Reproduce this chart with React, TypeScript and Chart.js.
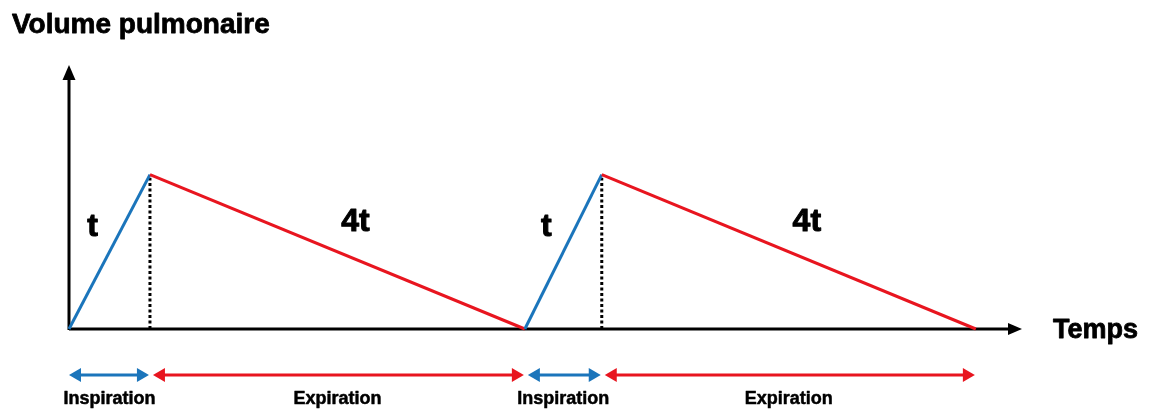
import React, { useEffect, useRef } from "react";
import { Chart, registerables } from "chart.js";

Chart.register(...registerables);

// Data (time in units of t-scale, volume relative)
const times = [0, 1, 5.63, 6.58, 11.2];
const volumes = [0, 1, 0, 1, 0];
const peakTimes = [1, 6.58];
const phaseLabels = ["Inspiration", "Expiration", "Inspiration", "Expiration"];
const durationLabels = ["t", "4t", "t", "4t"];
const yAxisTitle = "Volume pulmonaire";
const xAxisTitle = "Temps";
const xMax = 11.77;
const yMax = 1.71;

const BLUE = "#1b75bb";
const RED = "#e8151f";
const FONT = "'Liberation Sans', Arial, Helvetica, sans-serif";

function drawArrowHead(ctx: CanvasRenderingContext2D, x: number, y: number, dir: "left" | "right" | "up", len: number, half: number, color: string) {
  ctx.fillStyle = color;
  ctx.beginPath();
  if (dir === "right") {
    ctx.moveTo(x, y);
    ctx.lineTo(x - len, y - half);
    ctx.lineTo(x - len, y + half);
  } else if (dir === "left") {
    ctx.moveTo(x, y);
    ctx.lineTo(x + len, y - half);
    ctx.lineTo(x + len, y + half);
  } else {
    ctx.moveTo(x, y);
    ctx.lineTo(x - half, y + len);
    ctx.lineTo(x + half, y + len);
  }
  ctx.closePath();
  ctx.fill();
}

function boldText(ctx: CanvasRenderingContext2D, s: string, x: number, y: number, extra: number) {
  ctx.fillText(s, x, y);
  ctx.lineWidth = extra;
  ctx.strokeStyle = "#000";
  ctx.lineJoin = "round";
  ctx.strokeText(s, x, y);
}

const overlayPlugin = {
  id: "overlay",
  beforeDatasetsDraw(chart: any) {
    const ctx: CanvasRenderingContext2D = chart.ctx;
    const xs = chart.scales.x;
    const ys = chart.scales.y;
    const x0 = xs.getPixelForValue(0);
    const y0 = ys.getPixelForValue(0);
    const xEnd = xs.getPixelForValue(xMax);
    const yTop = ys.getPixelForValue(yMax);
    ctx.save();
    ctx.strokeStyle = "#000";
    ctx.lineWidth = 3;
    ctx.beginPath();
    ctx.moveTo(x0, y0);
    ctx.lineTo(xEnd - 10, y0);
    ctx.moveTo(x0, y0 + 1);
    ctx.lineTo(x0, yTop + 12);
    ctx.stroke();
    drawArrowHead(ctx, xEnd, y0, "right", 14, 6, "#000");
    drawArrowHead(ctx, x0, yTop, "up", 15, 6.5, "#000");
    ctx.restore();
  },
  afterDatasetsDraw(chart: any) {
    const ctx: CanvasRenderingContext2D = chart.ctx;
    const xs = chart.scales.x;
    const ys = chart.scales.y;
    ctx.save();
    ctx.fillStyle = "#000";
    ctx.textBaseline = "alphabetic";
    ctx.textAlign = "left";
    ctx.font = `bold 28px ${FONT}`;
    boldText(ctx, yAxisTitle, 12, 33, 0.8);
    ctx.font = `bold 27px ${FONT}`;
    boldText(ctx, xAxisTitle, 1053, 338, 0.8);

    const arrowY = 375;
    for (let i = 0; i < times.length - 1; i++) {
      const a = xs.getPixelForValue(times[i]);
      const b = xs.getPixelForValue(times[i + 1]);
      const up = volumes[i + 1] > volumes[i];
      const color = up ? BLUE : RED;
      const left = a + (i === 0 ? 0 : 3);
      const right = b - 1;
      ctx.strokeStyle = color;
      ctx.lineWidth = 3;
      ctx.beginPath();
      ctx.moveTo(left + 8, arrowY);
      ctx.lineTo(right - 8, arrowY);
      ctx.stroke();
      drawArrowHead(ctx, left, arrowY, "left", 12, 7, color);
      drawArrowHead(ctx, right, arrowY, "right", 12, 7, color);

      const mid = (a + b) / 2;
      ctx.fillStyle = "#000";
      ctx.textAlign = "center";
      ctx.textBaseline = "middle";
      ctx.font = `bold 18px ${FONT}`;
      boldText(ctx, phaseLabels[i], mid, 399, 0.5);

      ctx.font = `bold 32px ${FONT}`;
      const ly = up ? ys.getPixelForValue(0.66) : ys.getPixelForValue(0.69);
      const lx = up ? mid - 17 : mid + 18;
      boldText(ctx, durationLabels[i], lx, ly, 1);
    }
    ctx.restore();
  },
};

export default function App() {
  const ref = useRef<HTMLCanvasElement | null>(null);
  useEffect(() => {
    if (!ref.current) return;
    const mainData = times.map((t, i) => ({ x: t, y: volumes[i] }));
    const dotted = peakTimes.map((t) => ({
      data: [
        { x: t, y: 0 },
        { x: t, y: 0.98 },
      ],
      borderColor: "#000",
      borderWidth: 3,
      borderDash: [3, 2.5],
      pointRadius: 0,
      fill: false,
      order: 2,
    }));
    const chart = new Chart(ref.current, {
      type: "line",
      data: {
        datasets: [
          {
            data: mainData,
            borderWidth: 3,
            borderColor: RED,
            pointRadius: 0,
            fill: false,
            tension: 0,
            order: 1,
            segment: {
              borderColor: (c: any) => (c.p1.parsed.y > c.p0.parsed.y ? BLUE : RED),
            },
          } as any,
          ...(dotted as any),
        ],
      },
      options: {
        animation: false,
        responsive: false,
        maintainAspectRatio: false,
        clip: false as any,
        layout: { padding: { left: 69, right: 128, top: 65, bottom: 84 } },
        plugins: { legend: { display: false }, tooltip: { enabled: false }, title: { display: false } },
        scales: {
          x: { type: "linear", min: 0, max: xMax, display: false },
          y: { type: "linear", min: 0, max: yMax, display: false },
        },
      },
      plugins: [overlayPlugin],
    });
    return () => chart.destroy();
  }, []);
  return (
    <div style={{ position: "fixed", left: 0, top: 0, width: 1150, height: 413, background: "#fff" }}>
      <canvas ref={ref} width={1150} height={413} style={{ width: 1150, height: 413, display: "block" }} />
    </div>
  );
}
